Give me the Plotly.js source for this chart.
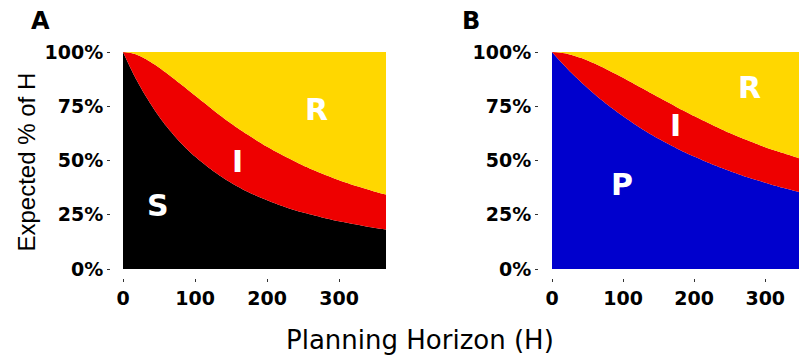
<!DOCTYPE html>
<html>
<head>
<meta charset="utf-8">
<script src="https://cdn.plot.ly/plotly-3.0.1.min.js"></script>
<style>
  html, body { margin: 0; padding: 0; background: #ffffff; }
  #chart { width: 799px; height: 362px; }
</style>
</head>
<body>
<div id="chart"></div>
<script>
// Planning horizon (days)
const horizon = [0, 10, 20, 30, 45, 60, 80, 100, 125, 150, 175, 200, 225, 250, 275, 300, 325, 350, 365];

// Panel A: expected % of H spent in S, I, R
const susceptibleA = [100, 92.9, 86.4, 80.5, 72.7, 65.9, 58.2, 51.8, 45.2, 39.8, 35.3, 31.7, 28.6, 26.0, 23.9, 22.0, 20.4, 18.9, 18.2];
const infectedA    = [0, 6.7, 12.2, 16.5, 21.3, 24.5, 27.0, 28.1, 28.1, 27.3, 26.2, 24.6, 23.2, 21.7, 20.2, 18.9, 17.7, 16.7, 16.1];
const recoveredA   = [0, 0.4, 1.4, 3.0, 6.0, 9.6, 14.8, 20.1, 26.7, 32.9, 38.5, 43.7, 48.2, 52.3, 55.9, 59.1, 61.9, 64.4, 65.7];

// Panel B: expected % of H spent in P, I, R
const protectedB   = [100, 96.3, 92.9, 89.5, 84.9, 80.5, 75.2, 70.4, 64.9, 60.0, 55.7, 51.8, 48.3, 45.2, 42.3, 39.8, 37.4, 35.3, 34.2];
const infectedB    = [0, 3.5, 6.4, 8.9, 11.9, 14.2, 16.3, 17.7, 18.7, 19.1, 19.0, 18.7, 18.2, 17.5, 17.0, 16.3, 16.0, 15.5, 15.1];
const recoveredB   = [0, 0.2, 0.7, 1.6, 3.2, 5.3, 8.5, 11.9, 16.4, 20.9, 25.3, 29.5, 33.5, 37.3, 40.7, 43.9, 46.6, 49.2, 50.7];

const yTicks = [0, 25, 50, 75, 100];
const yTickLabels = ['0%', '25%', '50%', '75%', '100%'];
const xTicks = [0, 100, 200, 300];
const xTickLabels = ['0', '100', '200', '300'];

function area(y, color, xa, ya, group) {
  return {
    x: horizon, y: y, xaxis: xa, yaxis: ya, stackgroup: group,
    mode: 'lines', fillcolor: color,
    line: { width: 0, shape: 'spline', smoothing: 0.8, color: color },
    hoverinfo: 'skip', showlegend: false
  };
}

const data = [
  area(susceptibleA, '#000000', 'x', 'y', 'a'),
  area(infectedA, '#EE0000', 'x', 'y', 'a'),
  area(recoveredA, '#FFD700', 'x', 'y', 'a'),
  area(protectedB, '#0000CD', 'x2', 'y2', 'b'),
  area(infectedB, '#EE0000', 'x2', 'y2', 'b'),
  area(recoveredB, '#FFD700', 'x2', 'y2', 'b')
];

const tickFont = { family: 'DejaVu Sans', size: 19, weight: 'bold', color: '#000000' };
const W = 799, H = 362;
const yDomain = [(H - 269) / H, (H - 52) / H];

function xAxis(domain, range) {
  return {
    domain: domain, range: range, anchor: 'free', position: (H - 278) / H,
    tickmode: 'array', tickvals: xTicks, ticktext: xTickLabels,
    ticks: 'outside', ticklen: 3, tickwidth: 1, tickcolor: '#333333',
    showline: false, showgrid: false, zeroline: false, tickfont: tickFont,
    fixedrange: true, automargin: false
  };
}
function yAxis(pos) {
  return {
    domain: yDomain, range: [0, 100], anchor: 'free', position: pos,
    tickmode: 'array', tickvals: yTicks, ticktext: yTickLabels,
    ticks: 'outside', ticklen: 3, tickwidth: 1, tickcolor: '#333333',
    showline: false, showgrid: false, zeroline: false, tickfont: tickFont,
    fixedrange: true, automargin: false
  };
}

const white = { family: 'DejaVu Sans', size: 30, weight: 'bold', color: '#ffffff' };
function lab(text, x, y, xa, ya) {
  return { text: text, x: x, y: y, xref: xa, yref: ya, showarrow: false, font: white,
           xanchor: 'center', yanchor: 'middle' };
}

const layout = {
  width: W, height: H,
  margin: { l: 0, r: 0, t: 0, b: 0, pad: 0 },
  paper_bgcolor: '#ffffff', plot_bgcolor: '#ffffff',
  showlegend: false,
  xaxis: xAxis([123 / W, 386 / W], [0, 365]),
  yaxis: yAxis(110 / W),
  xaxis2: xAxis([552 / W, 1], [0, 347.5]),
  yaxis2: yAxis(538 / W),
  annotations: [
    lab('S', 49, 29.2, 'x', 'y'),
    lab('I', 159, 49.7, 'x', 'y'),
    lab('R', 269, 73.7, 'x', 'y'),
    lab('P', 98.8, 39.1, 'x2', 'y2'),
    lab('I', 173.6, 65.9, 'x2', 'y2'),
    lab('R', 278, 83.6, 'x2', 'y2'),
    { text: 'A', x: 40 / W, y: (H - 21.5) / H, xref: 'paper', yref: 'paper', showarrow: false,
      font: { family: 'DejaVu Sans', size: 24, weight: 'bold', color: '#000' }, xanchor: 'center', yanchor: 'middle' },
    { text: 'B', x: 470.5 / W, y: (H - 21) / H, xref: 'paper', yref: 'paper', showarrow: false,
      font: { family: 'DejaVu Sans', size: 24, weight: 'bold', color: '#000' }, xanchor: 'center', yanchor: 'middle' },
    { text: 'Planning Horizon (H)', x: 420 / W, y: (H - 340) / H, xref: 'paper', yref: 'paper', showarrow: false,
      font: { family: 'DejaVu Sans', size: 26, color: '#000' }, xanchor: 'center', yanchor: 'middle' },
    { text: 'Expected % of H', x: 26 / W, y: (H - 162.5) / H, xref: 'paper', yref: 'paper', showarrow: false,
      textangle: -90, font: { family: 'Liberation Sans', size: 24, color: '#000' }, xanchor: 'center', yanchor: 'middle' }
  ]
};

Plotly.newPlot('chart', data, layout, { staticPlot: true, displayModeBar: false });
</script>
</body>
</html>
